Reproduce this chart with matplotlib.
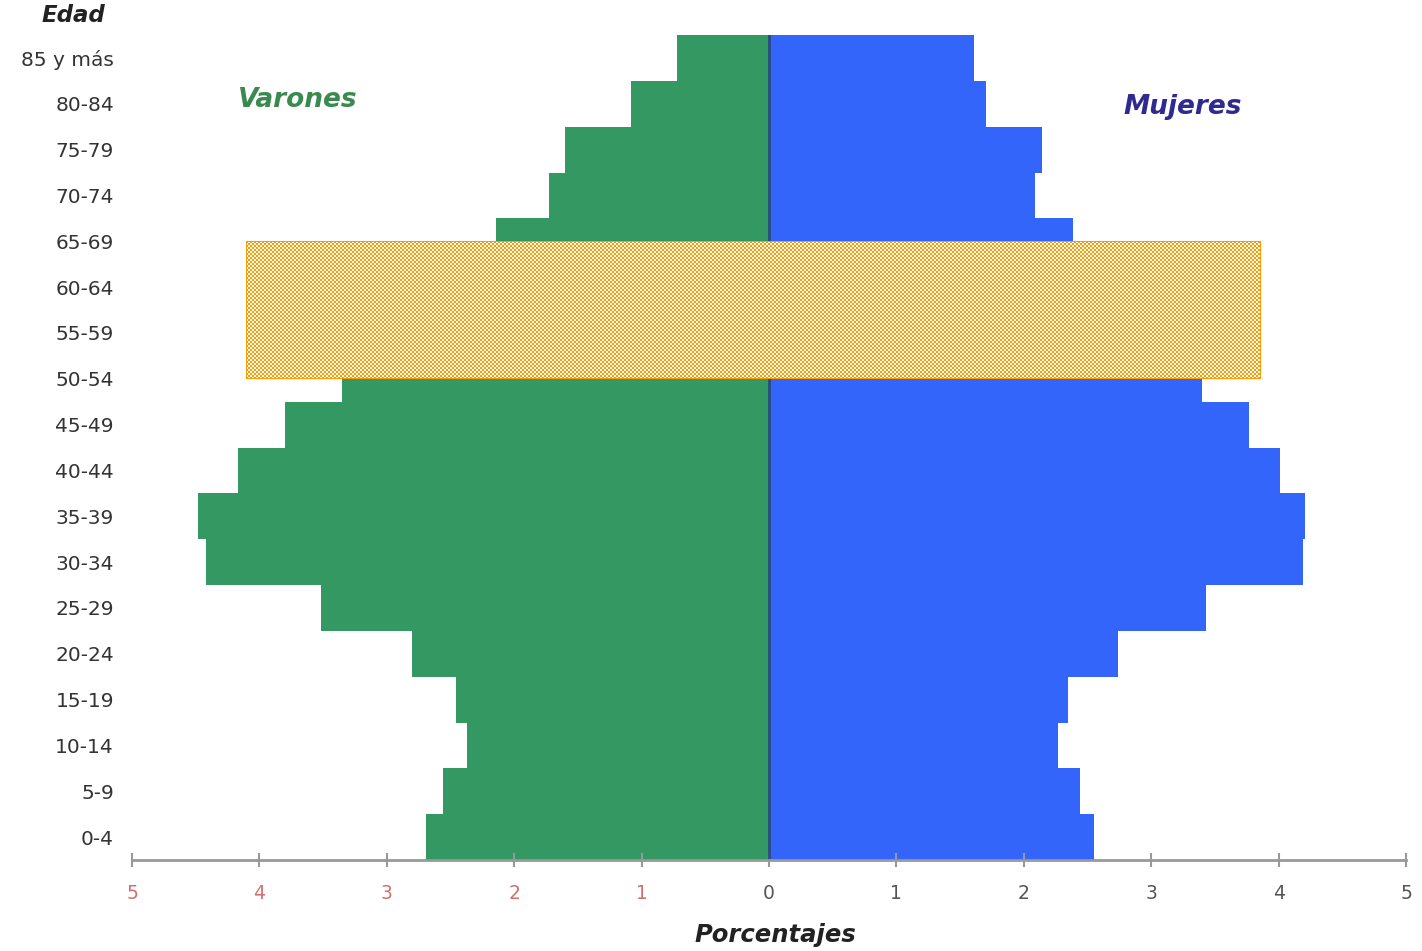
import numpy as np
import matplotlib.pyplot as plt

plt.switch_backend('Agg')

# Age groups from youngest to oldest
grupos = ['0-4', '5-9', '10-14', '15-19', '20-24', '25-29', '30-34', '35-39',
          '40-44', '45-49', '50-54', '55-59', '60-64', '65-69', '70-74',
          '75-79', '80-84', '85 y más']

# Percentages (55-64 is covered by the patch)
varones = [2.69, 2.56, 2.37, 2.46, 2.80, 3.52, 4.42, 4.48, 4.17, 3.80,
           3.35, 2.90, 2.50, 2.14, 1.73, 1.60, 1.08, 0.72]
mujeres = [2.55, 2.44, 2.27, 2.35, 2.74, 3.43, 4.19, 4.21, 4.01, 3.77,
           3.40, 3.10, 2.80, 2.39, 2.09, 2.14, 1.70, 1.61]

xticks = [-5, -4, -3, -2, -1, 0, 1, 2, 3, 4, 5]
xlabels = ['5', '4', '3', '2', '1', '0', '1', '2', '3', '4', '5']

verde = '#349862'
azul = '#3465fb'

W, H = 1422, 951
fig = plt.figure(figsize=(W / 100, H / 100), dpi=100)
ax = fig.add_axes([132 / W, (H - 860) / H, (1406 - 132) / W, (860 - 35) / H])

y = np.arange(len(grupos))
ax.barh(y, -np.array(varones), height=1.0, color=verde, edgecolor='none')
ax.barh(y, mujeres, height=1.0, color=azul, edgecolor='none')
ax.axvline(0, color='#2a4a80', linewidth=2)

ax.set_xlim(-5, 5)
ax.set_ylim(-0.5, len(grupos) - 0.5)

ax.set_yticks(y)
ax.set_yticklabels(grupos, fontsize=14.5, color='#333333')
ax.tick_params(axis='y', length=0, pad=13)

ax.set_xticks(xticks)
ax.set_xticklabels(xlabels, fontsize=13.5)
for lbl, v in zip(ax.get_xticklabels(), xticks):
    lbl.set_color('#d07070' if v < 0 else '#555555')
ax.tick_params(axis='x', direction='inout', length=10, width=1.5,
               color='#999999', pad=12)

for s in ['top', 'right', 'left']:
    ax.spines[s].set_visible(False)
ax.spines['bottom'].set_color('#999999')
ax.spines['bottom'].set_linewidth(2)

# Labels
fig.text(73 / W, 1 - 16 / H, 'Edad', fontsize=16.5, fontstyle='italic',
         fontweight='bold', color='#222222', ha='center', va='center')
fig.text(775 / W, 1 - 935 / H, 'Porcentajes', fontsize=17.5, fontstyle='italic',
         fontweight='bold', color='#222222', ha='center', va='center')
fig.text(298 / W, 1 - 100 / H, 'Varones', fontsize=19, fontstyle='italic',
         fontweight='bold', color='#3a8a50', ha='center', va='center')
fig.text(1183 / W, 1 - 107 / H, 'Mujeres', fontsize=19, fontstyle='italic',
         fontweight='bold', color='#302a90', ha='center', va='center')

# Orange checkered patch covering part of the chart, drawn pixel by pixel
px0, px1, py0, py1 = 246, 1261, 241, 379
ii, jj = np.indices((py1 - py0, px1 - px0))
checker = ((ii // 2 + jj // 2) % 2 == 0)
img = np.ones(checker.shape + (3,))
img[checker] = [1.0, 0.6, 0.0]
img[0, :] = img[-1, :] = img[:, 0] = img[:, -1] = [1.0, 0.6, 0.0]
fig.figimage(img, xo=px0, yo=H - py1, origin='upper', zorder=5)

fig.savefig('out.png', dpi=100)
